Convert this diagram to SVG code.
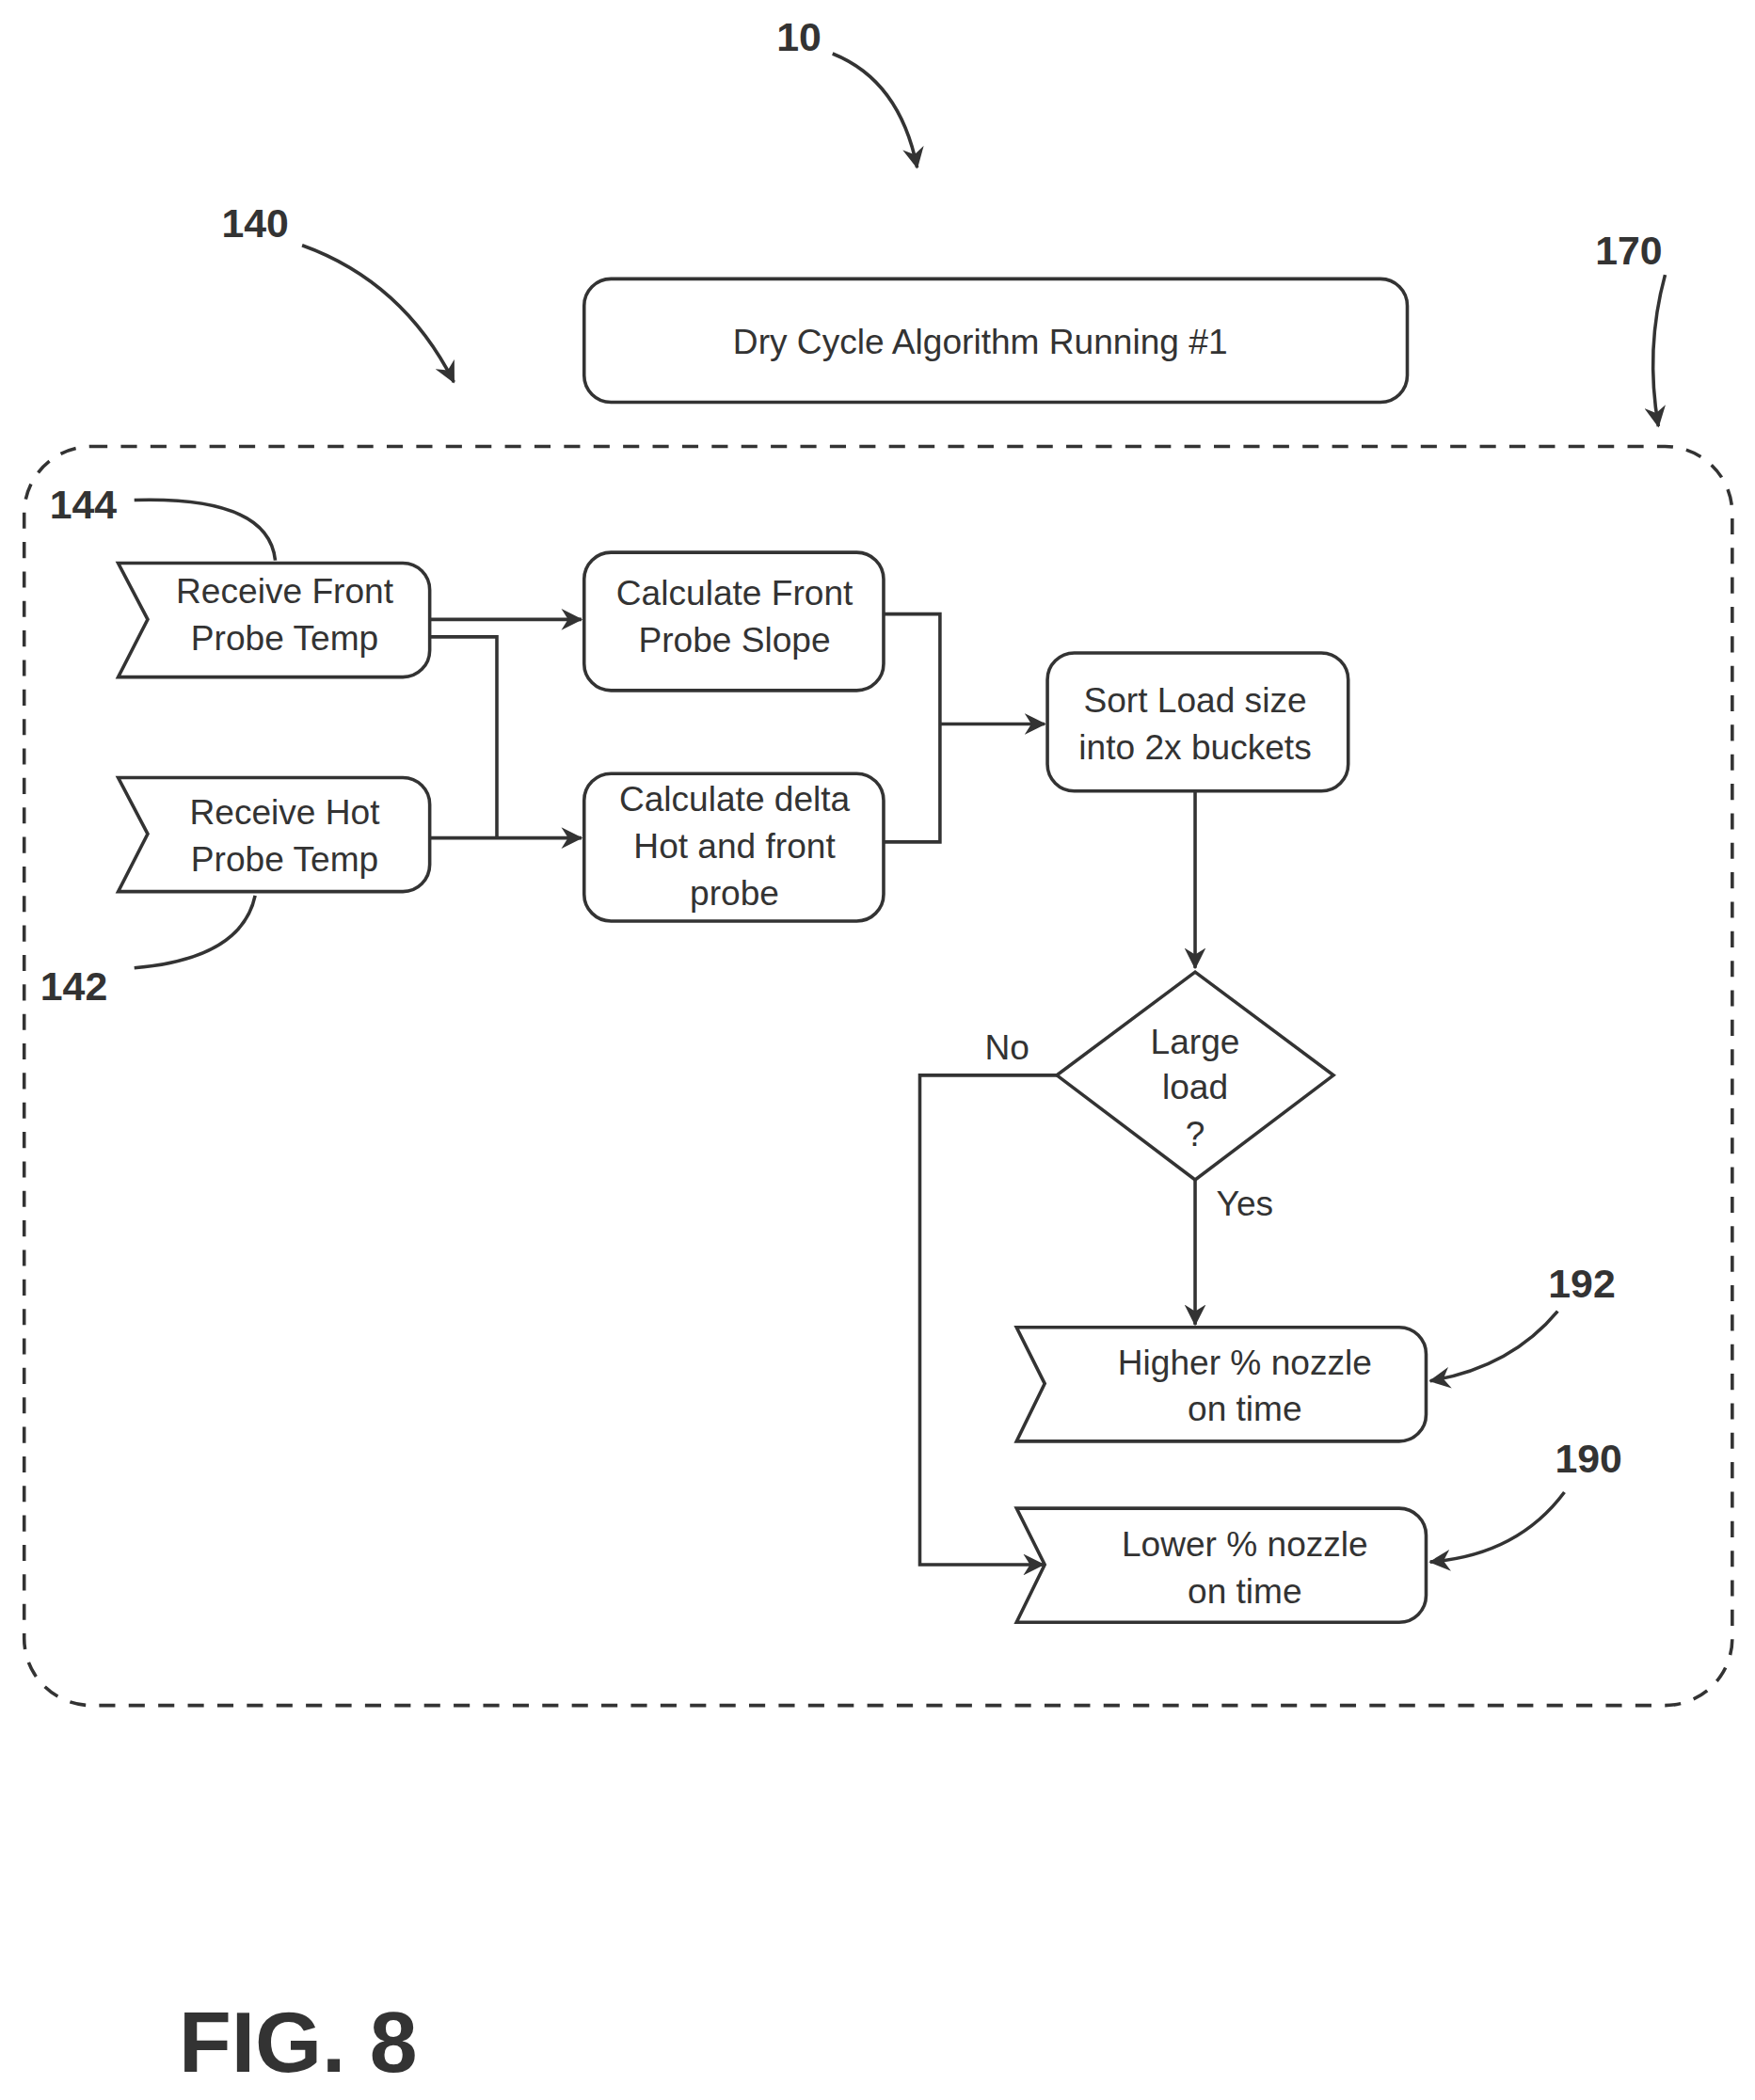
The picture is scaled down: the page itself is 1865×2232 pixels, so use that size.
<svg xmlns="http://www.w3.org/2000/svg" width="1865" height="2232" viewBox="0 0 1865 2232">
<defs>
<marker id="ah" viewBox="0 0 16 16" refX="15" refY="8" markerWidth="16" markerHeight="16" markerUnits="userSpaceOnUse" orient="auto"><path d="M0,0 L16,8 L0,16 L5,8 Z" fill="#333"/></marker>
<style>
.s{fill:none;stroke:#333;stroke-width:2.5}
.b{fill:#fff;stroke:#333;stroke-width:2.5}
.t{font-family:"Liberation Sans",Arial,sans-serif;font-size:26px;fill:#333;text-anchor:middle}
.n{font-family:"Liberation Sans",Arial,sans-serif;font-size:30px;font-weight:bold;fill:#333;text-anchor:middle}
</style>
</defs>
<rect width="1865" height="2232" fill="#fff"/>
<g transform="scale(1.427,1.425)">
<g id="container"><rect x="18" y="333" width="1272" height="939" rx="50" class="s" stroke-dasharray="12,10"/></g>
<g id="title"><rect x="435" y="208" width="613" height="92" rx="20" class="b"/><text class="t" x="730" y="264">Dry Cycle Algorithm Running #1</text></g>
<g id="n144"><path class="b" d="M88,420 H300 A20,20 0 0 1 320,440 V485 A20,20 0 0 1 300,505 H88 L110,462 Z"/><text class="t" x="212" y="450">Receive Front</text><text class="t" x="212" y="485">Probe Temp</text></g>
<g id="n142"><path class="b" d="M88,580 H300 A20,20 0 0 1 320,600 V645 A20,20 0 0 1 300,665 H88 L110,622 Z"/><text class="t" x="212" y="615">Receive Hot</text><text class="t" x="212" y="650">Probe Temp</text></g>
<g id="calcFront"><rect x="435" y="412" width="223" height="103" rx="20" class="b"/><text class="t" x="547" y="451">Calculate Front</text><text class="t" x="547" y="486">Probe Slope</text></g>
<g id="calcDelta"><rect x="435" y="577" width="223" height="110" rx="20" class="b"/><text class="t" x="547" y="605">Calculate delta</text><text class="t" x="547" y="640">Hot and front</text><text class="t" x="547" y="675">probe</text></g>
<g id="sort"><rect x="780" y="487" width="224" height="103" rx="20" class="b"/><text class="t" x="890" y="531">Sort Load size</text><text class="t" x="890" y="566">into 2x buckets</text></g>
<g id="decision"><path class="b" d="M890,725 L993,802 L890,880 L787,802 Z"/><text class="t" x="890" y="786">Large</text><text class="t" x="890" y="820">load</text><text class="t" x="890" y="855">?</text></g>
<g id="n192"><path class="b" d="M757,990 H1042 A20,20 0 0 1 1062,1010 V1055 A20,20 0 0 1 1042,1075 H757 L778,1032 Z"/><text class="t" x="927" y="1025">Higher % nozzle</text><text class="t" x="927" y="1060">on time</text></g>
<g id="n190"><path class="b" d="M757,1125 H1042 A20,20 0 0 1 1062,1145 V1190 A20,20 0 0 1 1042,1210 H757 L778,1167 Z"/><text class="t" x="927" y="1161">Lower % nozzle</text><text class="t" x="927" y="1196">on time</text></g>
<g id="connectors">
<path class="s" d="M320,462 H433" marker-end="url(#ah)"/>
<path class="s" d="M320,475 H370 V625"/>
<path class="s" d="M320,625 H433" marker-end="url(#ah)"/>
<path class="s" d="M658,458 H700 V628 H658"/>
<path class="s" d="M700,540 H778" marker-end="url(#ah)"/>
<path class="s" d="M890,590 V722" marker-end="url(#ah)"/>
<path class="s" d="M890,880 V988" marker-end="url(#ah)"/>
<path class="s" d="M787,802 H685 V1167 H777" marker-end="url(#ah)"/>
<text class="t" x="750" y="790">No</text>
<text class="t" x="927" y="907">Yes</text>
</g>
<g id="labels">
<text class="n" x="595" y="38">10</text><path class="s" d="M620,40 Q670,60 683,125" marker-end="url(#ah)"/>
<text class="n" x="190" y="177">140</text><path class="s" d="M225,183 Q300,210 338,285" marker-end="url(#ah)"/>
<text class="n" x="1213" y="197">170</text><path class="s" d="M1240,205 Q1225,260 1235,318" marker-end="url(#ah)"/>
<text class="n" x="62" y="387">144</text><path class="s" d="M100,373 Q200,370 205,418"/>
<text class="n" x="55" y="746">142</text><path class="s" d="M100,722 Q180,715 190,668"/>
<text class="n" x="1178" y="968">192</text><path class="s" d="M1160,978 Q1125,1020 1065,1030" marker-end="url(#ah)"/>
<text class="n" x="1183" y="1098">190</text><path class="s" d="M1165,1113 Q1130,1160 1065,1165" marker-end="url(#ah)"/>
<text x="222" y="1545" font-family="Liberation Sans,Arial,sans-serif" font-size="64" font-weight="bold" fill="#333" text-anchor="middle">FIG. 8</text>
</g>
</g>
</svg>
